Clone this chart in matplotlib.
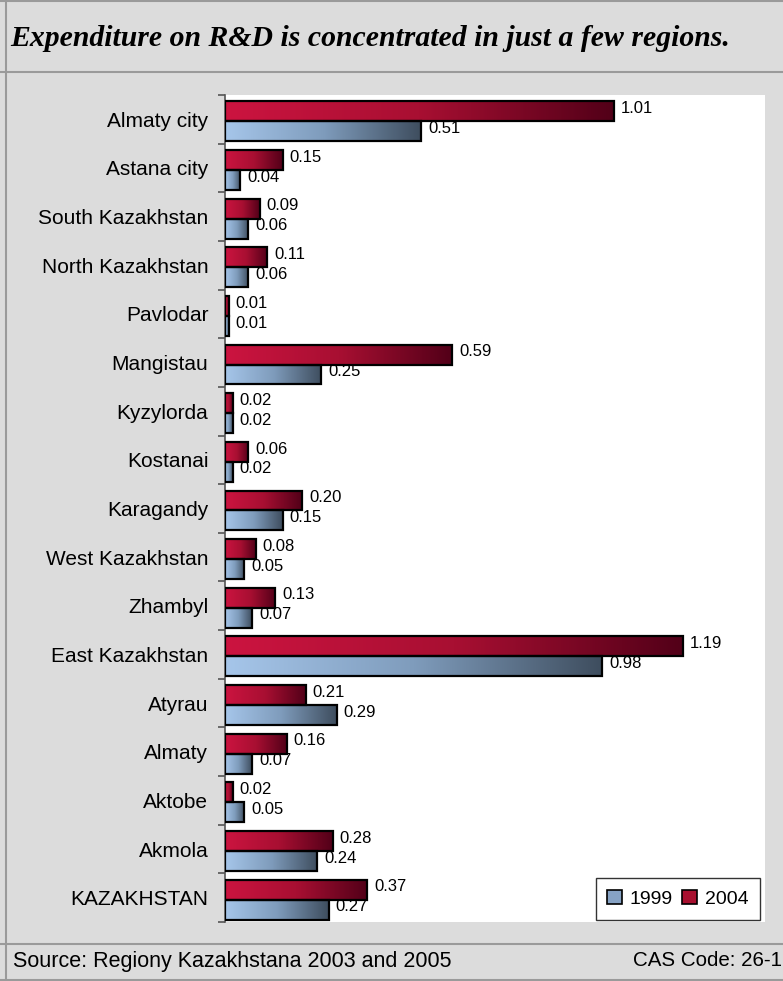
import numpy as np
import matplotlib.pyplot as plt
from matplotlib.colors import LinearSegmentedColormap
from matplotlib.lines import Line2D
from matplotlib.patches import Patch

regions = ['Almaty city', 'Astana city', 'South Kazakhstan', 'North Kazakhstan',
           'Pavlodar', 'Mangistau', 'Kyzylorda', 'Kostanai', 'Karagandy',
           'West Kazakhstan', 'Zhambyl', 'East Kazakhstan', 'Atyrau', 'Almaty',
           'Aktobe', 'Akmola', 'KAZAKHSTAN']
rd_2004 = [1.01, 0.15, 0.09, 0.11, 0.01, 0.59, 0.02, 0.06, 0.20, 0.08, 0.13,
           1.19, 0.21, 0.16, 0.02, 0.28, 0.37]
rd_1999 = [0.51, 0.04, 0.06, 0.06, 0.01, 0.25, 0.02, 0.02, 0.15, 0.05, 0.07,
           0.98, 0.29, 0.07, 0.05, 0.24, 0.27]

W, H = 783, 981
bg = '#dcdcdc'
frame = '#9a9a9a'

reds = LinearSegmentedColormap.from_list('reds', ['#cc1440', '#a80f32', '#520018'])
blues = LinearSegmentedColormap.from_list('blues', ['#a6c6ea', '#7f9cbc', '#3e4d5e'])
grad = np.linspace(0, 1, 256).reshape(1, -1)

fig = plt.figure(figsize=(W / 100, H / 100), dpi=100, facecolor=bg)

# frame lines: title band, footer band, outer border
def hline(y, x0=0, x1=W):
    fig.add_artist(Line2D([x0 / W, x1 / W], [1 - y / H, 1 - y / H], color=frame, lw=1.5))

def vline(x, y0=0, y1=H):
    fig.add_artist(Line2D([x / W, x / W], [1 - y0 / H, 1 - y1 / H], color=frame, lw=1.5))

hline(1)
hline(72)
hline(944)
hline(980)
vline(5.5)

fig.text(10 / W, 1 - 38 / H, 'Expenditure on R&D is concentrated in just a few regions.',
         family='Liberation Serif', weight='bold', style='italic', fontsize=21.4,
         va='center', ha='left')
fig.text(13 / W, 1 - 961 / H, 'Source: Regiony Kazakhstana 2003 and 2005',
         family='Liberation Sans', fontsize=15.5, va='center', ha='left')
fig.text(633 / W, 1 - 961 / H, 'CAS Code: 26-1',
         family='Liberation Sans', fontsize=14.8, va='center', ha='left')

ax = fig.add_axes([225 / W, 1 - 922 / H, 540 / W, 827 / H])
ax.set_facecolor('white')

n = len(regions)
y = np.arange(n) + 0.04
h = 0.41
xmax = 1.403

for i in range(n):
    for val, cmap, yc in ((rd_2004[i], reds, y[i] - h / 2), (rd_1999[i], blues, y[i] + h / 2)):
        ax.imshow(grad, cmap=cmap, aspect='auto', interpolation='bilinear',
                  extent=(0, val, yc + h / 2, yc - h / 2), zorder=2)
        ax.barh(yc, val, height=h, facecolor='none', edgecolor='black', lw=1.6, zorder=3)
        ax.annotate(f'{val:.2f}', (val, yc), xytext=(5, 2), textcoords='offset points',
                    family='Liberation Sans', fontsize=12, va='center', ha='left')

ax.set_xlim(0, xmax)
ax.set_ylim(n - 0.5, -0.5)

for s in ('top', 'right', 'bottom'):
    ax.spines[s].set_visible(False)
ax.spines['left'].set_color('#555555')
ax.spines['left'].set_linewidth(1.2)
ax.set_xticks([])
ax.set_yticks(np.arange(n))
ax.set_yticklabels(regions, family='Liberation Sans', fontsize=15)
ax.tick_params(axis='y', which='major', length=0, pad=12)
ax.set_yticks(np.arange(n + 1) - 0.5, minor=True)
ax.tick_params(axis='y', which='minor', length=5, width=1.2, color='#555555')

handles = [Patch(facecolor='#86a2c4', edgecolor='black', lw=1.2, label='1999'),
           Patch(facecolor='#a8102f', edgecolor='black', lw=1.2, label='2004')]
leg = ax.legend(handles=handles, loc='lower right', bbox_to_anchor=(0.991, 0.003),
                ncol=2, frameon=True, fancybox=False, borderaxespad=0,
                handlelength=0.75, handleheight=0.75, handletextpad=0.4,
                columnspacing=0.5, borderpad=0.6,
                prop={'family': 'Liberation Sans', 'size': 14})
leg.get_frame().set_edgecolor('black')
leg.get_frame().set_linewidth(1.0)

fig.savefig('out.png', dpi=100, facecolor=bg)
